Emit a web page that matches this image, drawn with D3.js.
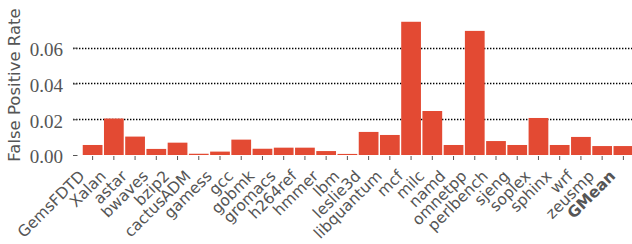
<!doctype html>
<html>
<head>
<style>
    body { margin: 0; background: #fff; }
    .bar { fill: #e34a33; }
    .grid line { stroke: #000; stroke-width: 1.5; stroke-dasharray: 1.4,1.6; }
</style>
</head>
<body>
<div id="chart"></div>
<script src="https://d3js.org/d3.v7.min.js"></script>
<script>
    // benchmarks and their false positive rates
    var benchmarks = ["GemsFDTD", "Xalan", "astar", "bwaves", "bzip2", "cactusADM", "gamess", "gcc",
        "gobmk", "gromacs", "h264ref", "hmmer", "lbm", "leslie3d", "libquantum", "mcf", "milc",
        "namd", "omnetpp", "perlbench", "sjeng", "soplex", "sphinx", "wrf", "zeusmp", "GMean"];
    var fpRate = [0.0056, 0.0204, 0.0103, 0.0034, 0.0069, 0.0007, 0.0019, 0.0086,
        0.0035, 0.0041, 0.0041, 0.0022, 0.0006, 0.0129, 0.0112, 0.0745, 0.0246,
        0.0056, 0.0694, 0.0078, 0.0056, 0.0207, 0.0056, 0.0101, 0.0050, 0.0050];
    var yTicks = [0, 0.02, 0.04, 0.06];

    var width = 632, height = 244;
    var gray = "#555";

    var svg = d3.select("#chart").append("svg")
        .attr("width", width)
        .attr("height", height);

    var x = d3.scaleBand()
        .domain(benchmarks)
        .range([82, 634])
        .paddingInner(0.07)
        .paddingOuter(0.035);

    var y = d3.scaleLinear()
        .domain([0, 0.06])
        .range([155, 47.7]);

    // dotted grid lines
    svg.append("g")
        .attr("class", "grid")
        .selectAll("line")
        .data(yTicks.filter(function(d) { return d > 0; }))
        .enter().append("line")
        .attr("x1", 73)
        .attr("x2", width)
        .attr("y1", function(d) { return Math.round(y(d)) + 0.5; })
        .attr("y2", function(d) { return Math.round(y(d)) + 0.5; });

    // y axis
    var yAxis = svg.append("g")
        .attr("transform", "translate(77.5,0)")
        .call(d3.axisLeft(y).tickValues(yTicks).tickSize(4.5).tickPadding(10)
            .tickFormat(d3.format(".2f")));
    yAxis.select(".domain").remove();
    yAxis.selectAll(".tick line").attr("stroke", gray);
    yAxis.selectAll("text")
        .attr("fill", gray)
        .attr("dy", "0.42em")
        .style("font-family", "'Liberation Serif', serif")
        .style("font-size", "19px");

    // bars
    svg.selectAll(".bar")
        .data(fpRate)
        .enter().append("rect")
        .attr("class", "bar")
        .attr("x", function(d, i) { return x(benchmarks[i]); })
        .attr("y", function(d) { return y(d); })
        .attr("width", x.bandwidth())
        .attr("height", function(d) { return y(0) - y(d); });

    // x axis
    var xAxis = svg.append("g")
        .attr("transform", "translate(0,156)")
        .call(d3.axisBottom(x).tickSize(4).tickPadding(0));
    xAxis.select(".domain").remove();
    xAxis.selectAll(".tick line").attr("stroke", gray);
    xAxis.selectAll("text")
        .attr("fill", gray)
        .attr("text-anchor", "end")
        .attr("dy", 0)
        .attr("y", 0)
        .attr("transform", "translate(-7,21) rotate(-45)")
        .style("font-family", "'DejaVu Sans', sans-serif")
        .style("font-size", "15.5px")
        .style("font-weight", function(d) { return d == "GMean" ? "bold" : "normal"; });

    // y label
    svg.append("text")
        .attr("transform", "translate(19.5,85) rotate(-90)")
        .attr("text-anchor", "middle")
        .attr("fill", gray)
        .style("font-family", "'DejaVu Sans', sans-serif")
        .style("font-size", "16.5px")
        .text("False Positive Rate");
</script>
</body>
</html>
